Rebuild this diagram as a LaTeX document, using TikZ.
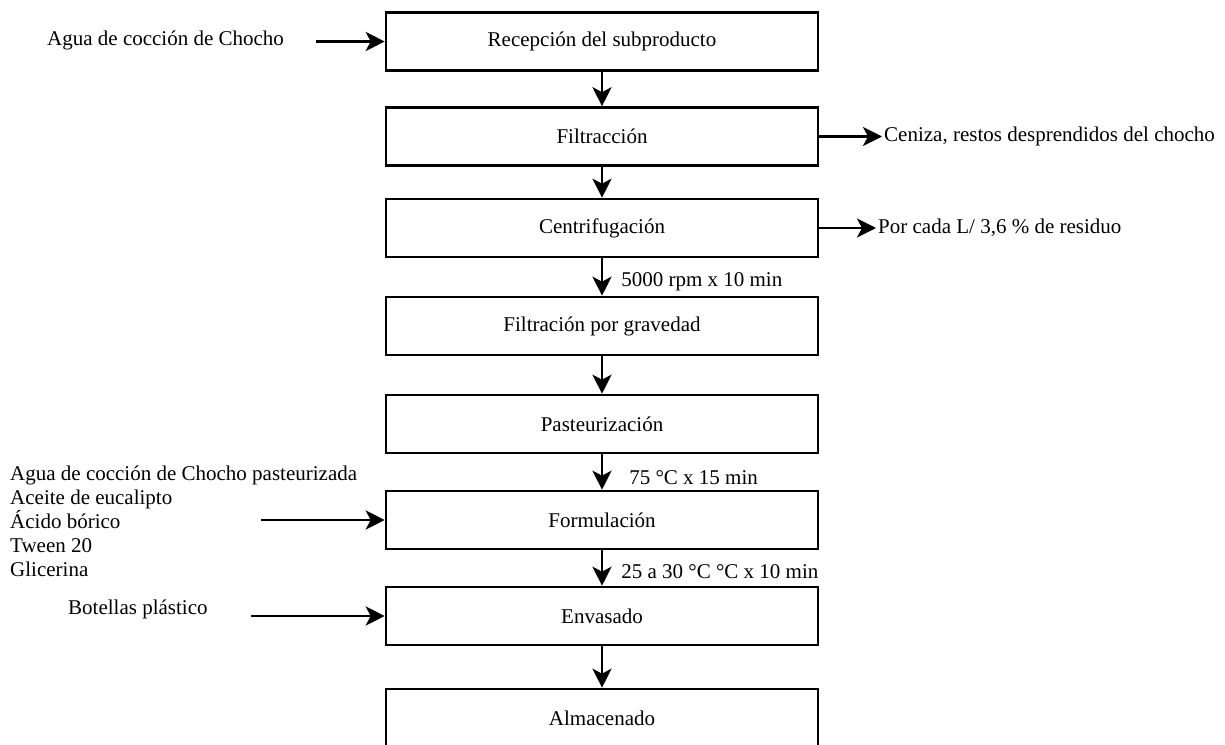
\documentclass[tikz,border=0pt]{standalone}
\usepackage{fontspec}
\setmainfont{Liberation Serif}
\usetikzlibrary{arrows.meta}

\begin{document}
\begin{tikzpicture}[x=1pt,y=-1pt,
	font=\fontsize{21}{24}\selectfont,
	etapa/.style={draw,line width=2.6pt,minimum width=432pt,minimum height=58pt,inner sep=0pt},
	flecha/.style={line width=2.6pt,-{Stealth[length=19pt,width=19pt,inset=5pt]}},
	texto/.style={anchor=west,inner sep=2pt}]
			\useasboundingbox (0,0) rectangle (1225,744);
			
			\node[etapa] (recep) at (602,41.5) {Recepción del subproducto};
			\node[etapa] (filtr) at (602,136.5) {Filtracción};
			\node[etapa] (centr) at (602,228) {Centrifugación};
			\node[etapa] (filgrav) at (602,326) {Filtración por gravedad};
			\node[etapa] (paste) at (602,424) {Pasteurización};
			\node[etapa] (formu) at (602,520) {Formulación};
			\node[etapa] (envas) at (602,616) {Envasado};
			\node[etapa] (almac) at (602,718) {Almacenado};
			
			\draw[flecha] (recep) -- (filtr);
			\draw[flecha] (filtr) -- (centr);
			\draw[flecha] (centr) -- node[texto,pos=0.62,xshift=16pt] {5000 rpm x 10 min} (filgrav);
			\draw[flecha] (filgrav) -- (paste);
			\draw[flecha] (paste) -- node[texto,pos=0.65,xshift=24pt] {75 °C x 15 min} (formu);
			\draw[flecha] (formu) -- node[texto,pos=0.6,xshift=16pt] {25 a 30 °C °C x 10 min} (envas);
			\draw[flecha] (envas) -- (almac);
			
			\node[texto] (agua) at (45,40) {Agua de cocción de Chocho};
			\coordinate (e1) at (316,41.5);
			\draw[flecha] (e1) -- (recep.west);
			
			\node[texto,align=left] (insumos) at (8,521) {Agua de cocción de Chocho pasteurizada\\Aceite de eucalipto\\Ácido bórico\\Tween 20\\Glicerina};
			\coordinate (e2) at (261,520);
			\draw[flecha] (e2) -- (formu.west);
			
			\node[texto] (botellas) at (66,609) {Botellas plástico};
			\coordinate (e3) at (251,616);
			\draw[flecha] (e3) -- (envas.west);
			
			\node[texto] (ceniza) at (882,136.5) {Ceniza, restos desprendidos del chocho};
			\draw[flecha] (filtr.east) -- (ceniza.west);
			
			\node[texto] (residuo) at (876,228) {Por cada L/ 3,6 \% de residuo};
			\draw[flecha] (centr.east) -- (residuo.west);
		  \end{tikzpicture}
\end{document}
